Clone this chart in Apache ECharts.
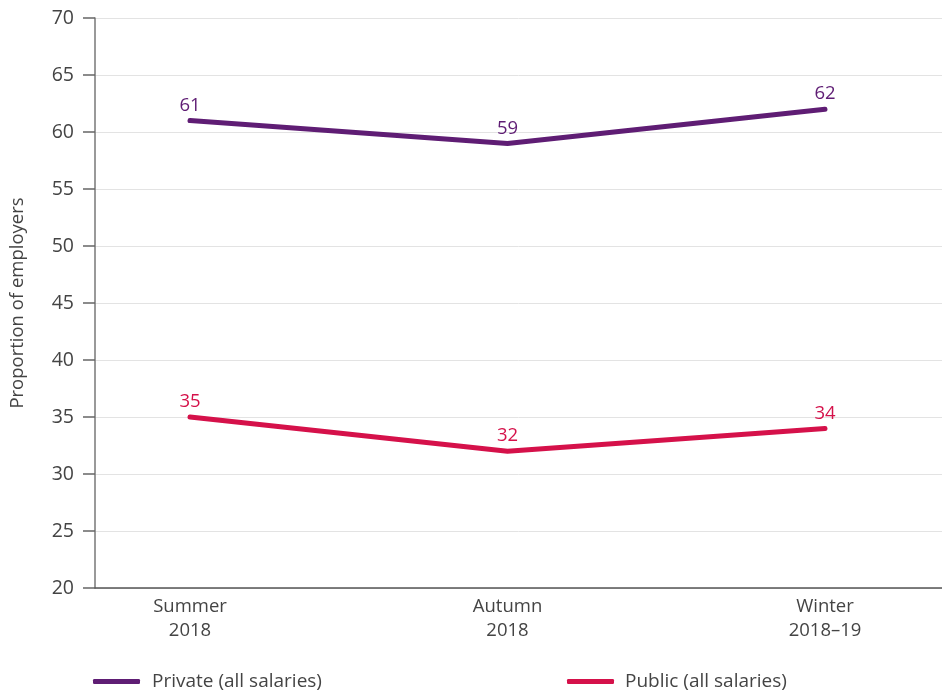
<!DOCTYPE html>
<html><head><meta charset="utf-8">
<script src="https://cdn.jsdelivr.net/npm/echarts@6/dist/echarts.min.js"></script>
<style>html,body{margin:0;padding:0;background:#fff}#c{width:942px;height:692px}</style>
</head><body><div id="c"></div>
<script>
var categories = ['Summer\n2018', 'Autumn\n2018', 'Winter\n2018\u201319'];
var privateValues = [61, 59, 62];
var publicValues = [35, 32, 34];
var yTicks = {min: 20, max: 70, interval: 5};
var seriesNames = ['Private (all salaries)', 'Public (all salaries)'];

var FONT = 'Open Sans';
var PURPLE = '#5f1d74';
var RED = '#d5114a';
var chart = echarts.init(document.getElementById('c'));
chart.setOption({
  animation: false,
  textStyle: {fontFamily: FONT},
  grid: [
    {left: 95, right: 0, top: 18, bottom: 104, outerBoundsMode: 'none', containLabel: false},
    {left: 190, right: 117, top: 18, bottom: 104, outerBoundsMode: 'none', containLabel: false}
  ],
  xAxis: [
    {gridIndex: 0, type: 'value', min: 0, max: 1, axisLabel: {show: false}, axisTick: {show: false}, splitLine: {show: false},
     axisLine: {show: true, lineStyle: {color: '#555', width: 1.5}}},
    {gridIndex: 1, type: 'category', data: categories, boundaryGap: false,
     axisLine: {show: false}, axisTick: {show: false},
     axisLabel: {color: '#444', fontSize: 18.5, lineHeight: 24, margin: 7, fontFamily: FONT}}
  ],
  yAxis: [
    {gridIndex: 0, type: 'value', min: yTicks.min, max: yTicks.max, interval: yTicks.interval,
     name: 'Proportion of employers', nameLocation: 'middle', nameGap: 68,
     nameTextStyle: {color: '#444', fontSize: 18.5, fontFamily: FONT},
     axisLine: {show: true, lineStyle: {color: '#777', width: 1.5}},
     axisTick: {show: true, length: 12, lineStyle: {color: '#666', width: 1.5}},
     axisLabel: {color: '#444', fontSize: 19.5, margin: 21, fontFamily: FONT},
     splitLine: {show: true, lineStyle: {color: '#e3e3e3', width: 1}}},
    {gridIndex: 1, type: 'value', min: yTicks.min, max: yTicks.max, show: false, splitLine: {show: false}}
  ],
  legend: [
    {data: [seriesNames[0]], left: 93, top: 672, padding: 0, itemWidth: 47, itemHeight: 5, icon: 'roundRect',
     textStyle: {color: '#444', fontSize: 19, fontFamily: FONT, padding: [0, 0, 0, 7]}},
    {data: [seriesNames[1]], left: 567, top: 672, padding: 0, itemWidth: 47, itemHeight: 5, icon: 'roundRect',
     textStyle: {color: '#444', fontSize: 19, fontFamily: FONT, padding: [0, 0, 0, 6]}}
  ],
  series: [
    {name: seriesNames[0], type: 'line', xAxisIndex: 1, yAxisIndex: 1, data: privateValues,
     symbol: 'circle', symbolSize: 1, showSymbol: true, lineStyle: {color: PURPLE, width: 5, cap: 'round'}, itemStyle: {color: PURPLE},
     label: {show: true, position: 'top', distance: 5, color: PURPLE, fontSize: 18.5, fontFamily: FONT}},
    {name: seriesNames[1], type: 'line', xAxisIndex: 1, yAxisIndex: 1, data: publicValues,
     symbol: 'circle', symbolSize: 1, showSymbol: true, lineStyle: {color: RED, width: 5, cap: 'round'}, itemStyle: {color: RED},
     label: {show: true, position: 'top', distance: 5, color: RED, fontSize: 18.5, fontFamily: FONT}}
  ]
});
</script></body></html>
